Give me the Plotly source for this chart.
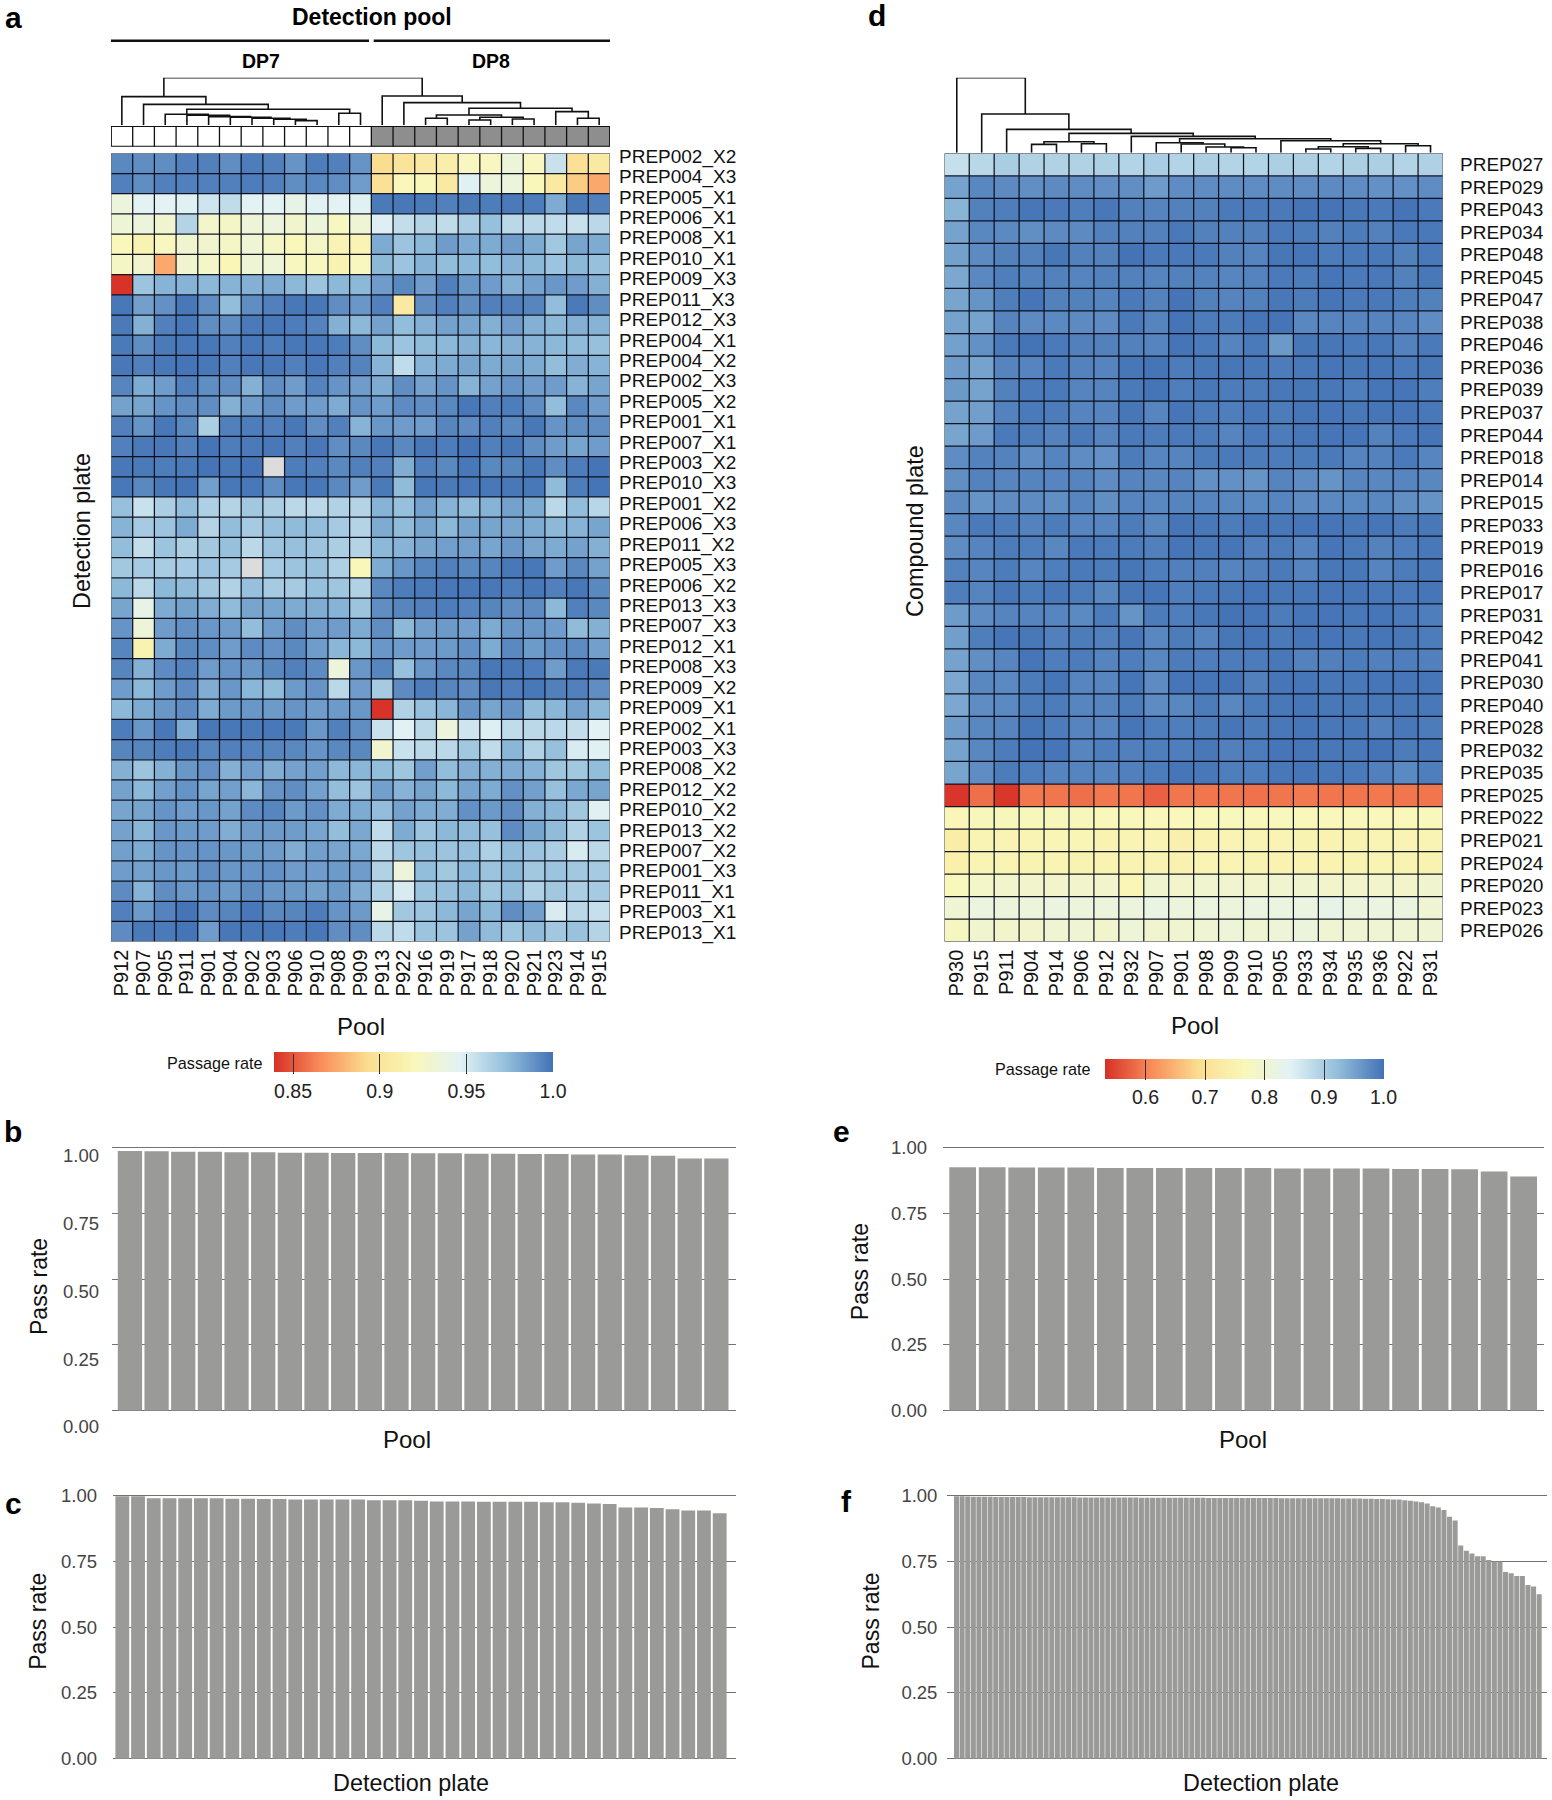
import plotly.graph_objects as go

W, H = 1552, 1800
FONT = "Liberation Sans"

# ---------- data ----------
pools_a = ["P912","P907","P905","P911","P901","P904","P902","P903","P906","P910","P908","P909",
           "P913","P922","P916","P919","P917","P918","P920","P921","P923","P914","P915"]
groups_a = [0]*12 + [1]*11
plates_a = ["PREP002_X2","PREP004_X3","PREP005_X1","PREP006_X1","PREP008_X1","PREP010_X1","PREP009_X3",
            "PREP011_X3","PREP012_X3","PREP004_X1","PREP004_X2","PREP002_X3","PREP005_X2","PREP001_X1",
            "PREP007_X1","PREP003_X2","PREP010_X3","PREP001_X2","PREP006_X3","PREP011_X2","PREP005_X3",
            "PREP006_X2","PREP013_X3","PREP007_X3","PREP012_X1","PREP008_X3","PREP009_X2","PREP009_X1",
            "PREP002_X1","PREP003_X3","PREP008_X2","PREP012_X2","PREP010_X2","PREP013_X2","PREP007_X2",
            "PREP001_X3","PREP011_X1","PREP003_X1","PREP013_X1"]
rates_a = [
 [.992,.99,.99,.995,.995,.99,.996,.995,.988,.996,.995,.988,.893,.90,.905,.91,.922,.922,.933,.922,.955,.897,.905],
 [.995,.99,.995,.995,.995,.995,.996,.995,.99,.992,.99,.985,.897,.92,.92,.905,.947,.935,.935,.92,.905,.887,.875],
 [.935,.945,.945,.947,.953,.958,.945,.945,.94,.946,.945,.947,.997,.998,.997,.995,.997,.996,.997,.996,.98,.997,.995],
 [.932,.935,.93,.962,.927,.925,.933,.935,.928,.935,.922,.932,.948,.957,.962,.958,.965,.972,.96,.96,.958,.955,.96],
 [.92,.915,.922,.93,.93,.925,.932,.925,.92,.925,.916,.916,.98,.97,.975,.985,.98,.98,.985,.98,.968,.982,.98],
 [.925,.93,.875,.93,.926,.918,.932,.933,.922,.922,.915,.922,.975,.97,.977,.973,.975,.973,.977,.975,.97,.975,.972],
 [.84,.97,.977,.977,.975,.977,.978,.98,.975,.97,.975,.975,.985,.992,.985,.995,.987,.985,.978,.983,.987,.985,.978],
 [.998,.984,.989,.998,.99,.973,.99,.995,.998,.998,.99,.987,.995,.905,.99,.995,.99,.995,.995,.993,.973,.997,.99],
 [.997,.978,.995,.998,.99,.99,.997,.998,.996,.994,.978,.975,.983,.973,.978,.983,.982,.978,.985,.978,.975,.978,.977],
 [.997,.99,.997,.998,.998,.995,.998,.996,.998,.998,.996,.99,.975,.97,.974,.975,.978,.976,.978,.977,.975,.974,.972],
 [.998,.995,.998,.999,.998,.995,.998,.998,.995,.998,.995,.994,.977,.958,.977,.98,.982,.98,.982,.98,.973,.979,.977],
 [.993,.98,.985,.995,.99,.99,.978,.99,.985,.994,.988,.985,.98,.99,.983,.988,.977,.983,.988,.985,.985,.977,.982],
 [.983,.982,.988,.99,.99,.978,.985,.99,.985,.985,.98,.988,.985,.991,.99,.992,.998,.995,.996,.99,.973,.992,.985],
 [.995,.988,.998,.992,.965,.995,.996,.995,.998,.99,.995,.977,.987,.985,.985,.993,.991,.995,.992,.998,.988,.99,.99],
 [.995,.997,.998,.995,.999,.996,.997,.998,.995,.998,.99,.992,.998,.992,.998,.996,.999,.995,.998,.99,.985,.982,.985],
 [.998,.997,.996,.997,.999,.998,.999,None,.996,.995,.992,.995,.995,.979,.995,.992,.998,.992,.993,.998,.99,.996,.999],
 [.998,.992,.998,.999,.984,.998,.998,.99,.998,.998,.992,.985,.997,.974,.998,.997,.998,.998,.998,.998,.974,.996,.999],
 [.972,.955,.965,.973,.964,.962,.968,.965,.96,.96,.963,.962,.977,.972,.983,.977,.974,.977,.983,.98,.96,.973,.961],
 [.977,.967,.97,.98,.962,.973,.967,.972,.974,.973,.967,.962,.98,.974,.982,.975,.982,.982,.982,.98,.975,.977,.982],
 [.973,.957,.97,.965,.968,.972,.96,.97,.972,.97,.965,.962,.975,.977,.982,.984,.984,.982,.987,.982,.98,.983,.978],
 [.968,.967,.966,.967,.97,.967,None,.967,.97,.971,.964,.92,.98,.987,.993,.995,.992,.993,.998,.998,.985,.992,.983],
 [.975,.96,.975,.974,.968,.963,.972,.967,.967,.972,.969,.963,.992,.996,.997,.998,.998,.998,.996,.998,.995,.998,.992],
 [.982,.94,.98,.983,.979,.974,.982,.982,.98,.979,.977,.97,.99,.993,.995,.996,.994,.993,.99,.991,.975,.995,.992],
 [.988,.933,.985,.989,.987,.985,.973,.985,.99,.985,.985,.98,.99,.975,.984,.986,.984,.98,.987,.987,.985,.974,.978],
 [.993,.915,.98,.992,.99,.985,.991,.989,.992,.985,.976,.975,.987,.985,.985,.986,.989,.98,.992,.986,.989,.991,.984],
 [.993,.978,.991,.994,.985,.988,.987,.992,.995,.991,.935,.987,.993,.972,.987,.992,.992,.998,.998,.996,.985,.997,.997],
 [.985,.975,.985,.991,.979,.987,.976,.974,.986,.988,.96,.985,.967,.991,.996,.993,.991,.998,.996,.998,.995,.995,.99],
 [.975,.98,.987,.991,.98,.986,.987,.986,.988,.985,.986,.987,.84,.963,.972,.976,.988,.982,.988,.974,.976,.983,.975],
 [.996,.987,.998,.98,.998,.998,.997,.998,.997,.987,.995,.99,.955,.946,.96,.935,.953,.948,.958,.96,.96,.957,.946],
 [.993,.993,.996,.997,.993,.995,.994,.993,.992,.988,.992,.992,.93,.955,.96,.96,.968,.958,.976,.963,.972,.95,.947],
 [.978,.97,.978,.987,.989,.978,.984,.979,.983,.984,.975,.976,.973,.969,.984,.973,.978,.978,.98,.977,.969,.968,.973],
 [.983,.975,.984,.988,.982,.984,.976,.988,.99,.983,.973,.97,.984,.977,.982,.975,.982,.98,.989,.984,.972,.981,.982],
 [.982,.982,.988,.985,.987,.983,.991,.993,.986,.989,.98,.98,.973,.983,.98,.979,.989,.986,.99,.978,.976,.968,.947],
 [.983,.976,.987,.986,.985,.979,.985,.986,.985,.982,.973,.981,.958,.98,.97,.975,.974,.972,.991,.982,.974,.963,.97],
 [.984,.98,.988,.988,.988,.987,.986,.985,.979,.984,.982,.981,.96,.969,.972,.97,.972,.964,.973,.97,.965,.95,.96],
 [.985,.983,.987,.986,.99,.987,.988,.989,.985,.985,.986,.985,.963,.935,.973,.968,.975,.97,.975,.968,.97,.968,.967],
 [.991,.977,.99,.987,.988,.986,.99,.987,.986,.983,.986,.979,.963,.95,.97,.972,.975,.968,.973,.963,.968,.965,.967],
 [.995,.986,.994,.999,.991,.993,.998,.992,.993,.996,.988,.986,.94,.968,.97,.975,.982,.975,.99,.984,.95,.96,.956],
 [.991,.997,.997,.999,.985,.998,.998,.998,.996,.998,.99,.99,.96,.958,.97,.97,.983,.974,.969,.974,.968,.971,.962],
]
# dendrogram merges: (left, right, height); integers are leaf positions
tree_a = (((0, (1, ((2, (3, (4, (5, (6, (7, (8, 9, 14), 18), 21), 24), 26), 30), 33), (10, 11, 36), 48), 63), 86),
           (12, (13, (((14, 15, 21), ((16, 17, 16), (18, 19, 19), 24), 31), (20, (21, 22, 21), 41), 51), 68), 88), 143))

pools_d = ["P930","P915","P911","P904","P914","P906","P912","P932","P907","P901",
           "P908","P909","P910","P905","P933","P934","P935","P936","P922","P931"]
plates_d = ["PREP027","PREP029","PREP043","PREP034","PREP048","PREP045","PREP047","PREP038","PREP046",
            "PREP036","PREP039","PREP037","PREP044","PREP018","PREP014","PREP015","PREP033","PREP019",
            "PREP016","PREP017","PREP031","PREP042","PREP041","PREP030","PREP040","PREP028","PREP032",
            "PREP035","PREP025","PREP022","PREP021","PREP024","PREP020","PREP023","PREP026"]
rates_d = [
 [.872,.885,.900,.892,.892,.892,.895,.890,.900,.890,.897,.890,.890,.897,.897,.890,.897,.897,.890,.893],
 [.950,.978,.975,.970,.975,.972,.970,.970,.958,.972,.972,.972,.972,.972,.972,.975,.972,.968,.968,.972],
 [.932,.985,.988,.995,.992,.988,.994,.985,.982,.985,.985,.992,.992,.992,.997,.997,.994,.992,.997,.992],
 [.950,.978,.976,.970,.975,.975,.985,.985,.985,.993,.985,.985,.985,.992,.990,.985,.990,.985,.993,.993],
 [.952,.975,.985,.985,.995,.985,.985,.998,.992,.993,.992,.985,.982,.995,.996,.990,.992,.993,.985,.993],
 [.945,.977,.987,.985,.985,.982,.985,.985,.982,.985,.984,.980,.983,.992,.990,.996,.992,.993,.985,.994],
 [.948,.965,.987,.996,.985,.985,.982,.992,.984,.997,.985,.982,.985,.994,.990,.996,.992,.993,.988,.985],
 [.950,.950,.982,.975,.976,.975,.974,.992,.982,.997,.990,.990,.996,.997,.978,.980,.982,.982,.980,.972],
 [.953,.968,.992,.998,.992,.986,.985,.985,.982,.997,.992,.982,.992,.960,.995,.995,.992,.994,.984,.992],
 [.958,.950,.982,.982,.992,.984,.982,.995,.997,.990,.994,.995,.994,.990,.994,.996,.995,.996,.992,.995],
 [.960,.950,.985,.992,.992,.982,.982,.992,.997,.988,.994,.990,.990,.994,.995,.994,.988,.996,.996,.988],
 [.950,.955,.984,.992,.990,.982,.982,.995,.980,.996,.990,.988,.994,.990,.996,.996,.994,.996,.996,.994],
 [.948,.958,.992,.990,.984,.992,.982,.992,.990,.992,.990,.982,.992,.990,.995,.996,.996,.984,.992,.996],
 [.972,.984,.984,.972,.982,.972,.968,.990,.980,.982,.990,.992,.990,.990,.990,.992,.982,.984,.992,.980],
 [.970,.984,.980,.982,.980,.982,.972,.982,.978,.982,.968,.968,.965,.982,.974,.965,.980,.978,.980,.978],
 [.975,.965,.972,.974,.970,.980,.970,.980,.978,.982,.980,.978,.976,.980,.974,.976,.976,.978,.970,.966],
 [.978,.992,.990,.984,.990,.980,.980,.990,.978,.996,.994,.990,.996,.994,.996,.996,.994,.996,.990,.994],
 [.972,.982,.990,.988,.978,.992,.990,.990,.986,.996,.994,.996,.986,.990,.982,.996,.992,.984,.988,.994],
 [.984,.980,.990,.980,.988,.992,.990,.995,.988,.986,.986,.982,.986,.992,.982,.994,.994,.982,.990,.994],
 [.988,.982,.995,.990,.994,.990,.978,.995,.996,.988,.992,.994,.996,.994,.994,.996,.996,.994,.992,.996],
 [.958,.972,.982,.982,.980,.976,.990,.965,.990,.988,.994,.998,.996,.990,.996,.996,.994,.996,.992,.988],
 [.955,.988,.996,.994,.986,.990,.986,.995,.978,.990,.982,.995,.996,.992,.996,.996,.994,.996,.994,.990],
 [.950,.970,.980,.996,.988,.990,.982,.988,.978,.990,.988,.990,.990,.994,.984,.986,.990,.986,.988,.986],
 [.945,.978,.976,.990,.996,.980,.980,.996,.974,.996,.996,.998,.986,.996,.996,.994,.994,.996,.996,.996],
 [.945,.972,.976,.990,.990,.980,.982,.990,.974,.978,.990,.978,.990,.994,.996,.994,.994,.994,.994,.994],
 [.958,.978,.982,.996,.990,.982,.980,.996,.988,.988,.990,.996,.990,.994,.996,.994,.994,.986,.994,.990],
 [.950,.978,.990,.998,.996,.980,.988,.986,.988,.988,.994,.986,.990,.996,.996,.994,.994,.998,.990,.994],
 [.948,.972,.990,.988,.982,.982,.980,.986,.990,.996,.994,.988,.988,.994,.996,.994,.992,.986,.976,.988],
 [.535,.585,.537,.592,.590,.585,.592,.590,.572,.590,.590,.590,.587,.590,.594,.590,.590,.592,.590,.590],
 [.762,.768,.768,.768,.768,.768,.765,.765,.765,.765,.767,.770,.767,.770,.765,.765,.765,.765,.765,.770],
 [.735,.755,.755,.755,.758,.758,.752,.755,.755,.745,.750,.755,.755,.755,.752,.750,.752,.755,.755,.755],
 [.740,.755,.755,.752,.755,.752,.752,.752,.752,.748,.755,.755,.752,.750,.750,.750,.752,.755,.752,.752],
 [.770,.785,.790,.790,.790,.790,.790,.762,.795,.790,.795,.795,.790,.795,.795,.790,.790,.790,.790,.795],
 [.800,.815,.810,.810,.817,.810,.810,.810,.820,.810,.815,.810,.817,.815,.817,.825,.815,.817,.815,.800],
 [.775,.795,.790,.790,.800,.800,.790,.805,.795,.795,.800,.805,.800,.805,.810,.800,.800,.800,.800,.800],
]
tree_d = (0, (1, (2, (((3, 4, 25), (5, 6, 27), 33),
                      (7, ((8, (9, (10, (11, 12, 15), 17), 26), 30),
                           (13, (((14, 15, 11), (16, 17, 13), 18), (18, 19, 21), 27), 36), 42), 49), 58), 70), 116), 225)

pass_b = [.988,.987,.985,.985,.983,.983,.982,.982,.981,.981,.981,.98,.98,.978,.978,.977,.977,.975,.975,.972,.97,.96,.96]
pass_c = [.998,.998,.99,.99,.99,.99,.99,.988,.988,.987,.987,.985,.985,.985,.985,.985,.982,.982,.982,.98,
          .978,.978,.978,.977,.977,.977,.977,.975,.975,.973,.97,.968,.955,.955,.953,.948,.943,.943,.933]
pass_e = [.926,.926,.925,.925,.925,.923,.923,.923,.923,.923,.923,.922,.922,.922,.922,.92,.92,.919,.91,.891]
pass_f = [.998,.998,.997,.996,.996,.996,.996,.995,.995,.995,
          .995,.995,.995,.994,.994,.994,.994,.994,.994,.994,
          .994,.994,.993,.993,.993,.993,.993,.993,.993,.993,
          .993,.993,.993,.992,.992,.992,.992,.992,.992,.992,
          .992,.992,.992,.992,.992,.991,.991,.991,.991,.991,
          .991,.991,.991,.991,.991,.991,.991,.991,.990,.990,
          .990,.990,.990,.990,.990,.990,.990,.990,.990,.989,
          .989,.989,.989,.988,.988,.987,.987,.986,.985,.985,
          .982,.980,.978,.975,.970,.960,.955,.945,.920,.905,
          .810,.790,.780,.770,.770,.755,.750,.750,.710,.705,
          .695,.695,.660,.655,.625]
pass_ticks = [0, .25, .5, .75, 1]
pass_labels = ["0.00", "0.25", "0.50", "0.75", "1.00"]
cb_ticks_a = [.85, .9, .95, 1.0]
cb_labels_a = ["0.85", "0.9", "0.95", "1.0"]
cb_ticks_d = [.6, .7, .8, .9, 1.0]
cb_labels_d = ["0.6", "0.7", "0.8", "0.9", "1.0"]

# ---------- helpers ----------
RDYLBU = [[0, "#d73027"], [1/6, "#f98c5a"], [1/3, "#fbdd8e"], [.5, "#f9f7b9"],
          [2/3, "#e2f2f5"], [5/6, "#93bedb"], [1, "#4272b5"]]
GRID = "rgba(8,12,24,0.95)"
BAR = "#9a9a99"
RULE = "#727272"
LABEL = 19
PAD = .01   # value-axis headroom so the rules at 0 and 1 are kept

def dx(a, b): return [a / W, b / W]
def dy(top, bottom): return [1 - bottom / H, 1 - top / H]

layout = dict(width=W, height=H, autosize=False, showlegend=False,
              margin=dict(l=0, r=0, t=0, b=0, autoexpand=False), paper_bgcolor="white",
              plot_bgcolor="rgba(0,0,0,0)",
              font=dict(family=FONT, color="#111"), annotations=[], shapes=[])
traces = []
counter = [0]

def new_axes(xdom, ydom, xkw, ykw):
    counter[0] += 1
    n = counter[0]
    sx = "" if n == 1 else str(n)
    base = dict(showgrid=False, zeroline=False, showline=False, ticks="", fixedrange=True)
    layout["xaxis" + sx] = {**base, "domain": xdom, "anchor": "y" + sx, **xkw}
    layout["yaxis" + sx] = {**base, "domain": ydom, "anchor": "x" + sx, **ykw}
    return "x" + sx, "y" + sx

def grid(nc, nr, xa, ya, color=GRID, width=1.25, outer=None, outer_w=1):
    xs, ys = [], []
    for i in range(1, nc):
        xs += [i - .5, i - .5, None]; ys += [-.5, nr - .5, None]
    for j in range(1, nr):
        xs += [-.5, nc - .5, None]; ys += [j - .5, j - .5, None]
    traces.append(go.Scatter(x=xs, y=ys, mode="lines", line=dict(color=color, width=width),
                             xaxis=xa, yaxis=ya, hoverinfo="skip"))
    xs = [-.5, nc - .5, nc - .5, -.5, -.5]; ys = [-.5, -.5, nr - .5, nr - .5, -.5]
    traces.append(go.Scatter(x=xs, y=ys, mode="lines", line=dict(color=outer or color, width=outer_w),
                             xaxis=xa, yaxis=ya, hoverinfo="skip", cliponaxis=False))

def dendro(node, xs, ys):
    if isinstance(node, int):
        return node, 0
    lx, lh = dendro(node[0], xs, ys)
    rx, rh = dendro(node[1], xs, ys)
    h = node[2]
    xs += [lx, lx, rx, rx, None]; ys += [lh, h, h, rh, None]
    return (lx + rx) / 2, h

def note(text, px, py, size, bold=False, angle=0, anchor="center", color="#111"):
    layout["annotations"].append(dict(
        text=f"<b>{text}</b>" if bold else text, x=px / W, y=1 - py / H, xref="paper", yref="paper",
        showarrow=False, xanchor=anchor, yanchor="middle", textangle=angle,
        font=dict(family=FONT, size=size, color=color)))

def heat_panel(rates, rows, cols, x0, x1, y0, y1, zmin, cb_ticks, cb_labels, cbx0, cbx1, cby0, cby1,
               xoff, yoff, cb_drop, label_span=None):
    nr, nc = len(rows), len(cols)
    y_labels = dict(side="right", tickmode="array", tickvals=list(range(nr)), ticktext=rows,
                    tickfont=dict(size=LABEL, color="#111"), ticklabelstandoff=yoff)
    y_kw = dict(range=[nr - .5, -.5])
    y_kw.update(dict(showticklabels=False) if label_span else y_labels)
    xa, ya = new_axes(dx(x0, x1), dy(y0, y1),
                      dict(range=[-.5, nc - .5], tickmode="array", tickvals=list(range(nc)), ticktext=cols,
                           tickangle=-90, tickfont=dict(size=20, color="#111"), ticklabelstandoff=xoff),
                      y_kw)
    if label_span:
        # the reference's row labels are spaced slightly wider than the rows themselves
        half = (label_span[1] - label_span[0]) / (nr - 1) / 2
        xl, yl = new_axes(dx(x0, x1), dy(label_span[0] - half, label_span[1] + half),
                          dict(range=[-.5, nc - .5], showticklabels=False),
                          dict(range=[nr - .5, -.5], **y_labels))
        traces.append(go.Scatter(x=[None], y=[None], mode="markers", xaxis=xl, yaxis=yl, hoverinfo="skip"))
    missing = [[1 if v is None else None for v in r] for r in rates]
    if any(1 in r for r in missing):
        traces.append(go.Heatmap(z=missing, x=list(range(nc)), y=list(range(nr)), zmin=0, zmax=1,
                                 colorscale=[[0, "#dcdcdc"], [1, "#dcdcdc"]], showscale=False,
                                 xaxis=xa, yaxis=ya, hoverinfo="skip"))
    traces.append(go.Heatmap(
        z=rates, x=list(range(nc)), y=list(range(nr)), zmin=zmin, zmax=1, colorscale=RDYLBU, xaxis=xa, yaxis=ya,
        colorbar=dict(orientation="h", lenmode="pixels", len=cbx1 - cbx0, thickness=cby1 - cby0,
                      thicknessmode="pixels", x=cbx0 / W, xanchor="left", y=1 - cby0 / H, yanchor="top",
                      xpad=0, ypad=0, outlinewidth=cb_drop, outlinecolor="rgba(0,0,0,0)", ticks="inside",
                      ticklen=cby1 - cby0, tickcolor="#333",
                      tickwidth=1, tickmode="array", tickvals=cb_ticks, ticktext=cb_labels,
                      tickfont=dict(family=FONT, size=19.5, color="#222"))))
    grid(nc, nr, xa, ya, outer="#6e6e6e", outer_w=1.2)

def dendro_panel(tree, nc, hmax, x0, x1, y0, y1):
    xa, ya = new_axes(dx(x0, x1), dy(y0, y1),
                      dict(range=[-.5, nc - .5], showticklabels=False),
                      dict(range=[0, hmax], showticklabels=False))
    xs, ys = [], []
    dendro(tree, xs, ys)
    traces.append(go.Scatter(x=xs, y=ys, mode="lines", line=dict(color="#111", width=1.6),
                             xaxis=xa, yaxis=ya, hoverinfo="skip", cliponaxis=False))

def bar_panel(vals, ax0, ax1, bx0, bx1, y0, y1, width, standoff, show_labels=True):
    n = len(vals)
    gap = (1 - width)
    pitch = (bx1 - bx0) / (n - gap)
    rng = [-.5 + gap / 2 - (bx0 - ax0) / pitch, n - .5 - gap / 2 + (ax1 - bx1) / pitch]
    extra = PAD * (y1 - y0)
    xa, ya = new_axes(dx(ax0, ax1), dy(y0 - extra, y1 + extra),
                      dict(range=rng, showticklabels=False),
                      dict(range=[-PAD, 1 + PAD], showgrid=True, gridcolor=RULE, gridwidth=1, tickmode="array",
                           tickvals=pass_ticks, ticktext=pass_labels, showticklabels=show_labels,
                           tickfont=dict(size=18.5, color="#444"), ticklabelstandoff=standoff))
    traces.append(go.Bar(x=list(range(n)), y=vals, width=width, marker=dict(color=BAR, line=dict(width=0)),
                         xaxis=xa, yaxis=ya))

# ---------- panel a ----------
heat_panel(rates_a, plates_a, pools_a, 111, 610, 153.3, 941.7, .839, cb_ticks_a, cb_labels_a,
           274, 553, 1052.4, 1072, 3, 8, 4, label_span=(156.1, 932.1))
xa, ya = new_axes(dx(111, 610), dy(126, 146.7),
                  dict(range=[-.5, len(pools_a) - .5], showticklabels=False),
                  dict(range=[-.5, .5], showticklabels=False))
traces.append(go.Heatmap(z=[groups_a], x=list(range(len(pools_a))), y=[0], zmin=0, zmax=1,
                         colorscale=[[0, "#ffffff"], [1, "#8e8e8e"]], showscale=False, xaxis=xa, yaxis=ya))
grid(len(pools_a), 1, xa, ya, color="#111", width=1.3, outer_w=1.8)
dendro_panel(tree_a, len(pools_a), 143, 111, 610, 77.7, 125.3)

# ---------- panel d ----------
heat_panel(rates_d, plates_d, pools_d, 944.3, 1443, 153.3, 941.7, .531, cb_ticks_d, cb_labels_d,
           1104.5, 1383, 1059.3, 1079.3, 3, 16, 2)
dendro_panel(tree_d, len(pools_d), 225, 944.3, 1443, 77.7, 152.7)

# ---------- bar panels ----------
bar_panel(pass_b, 112, 735.8, 117.8, 728.5, 1147.9, 1410.6, .91, 0, show_labels=False)
bar_panel(pass_c, 113, 735.8, 115.4, 726.6, 1495.6, 1758.8, .88, 15)
bar_panel(pass_e, 943, 1543.6, 949.3, 1537, 1147.9, 1410.6, .905, 15)
bar_panel(pass_f, 947.4, 1547, 954, 1541.7, 1495.6, 1758.8, .9, 9)

# panel b prints its labels on a scale offset from its rules
xl, yl = new_axes(dx(112, 735.8), dy(1155.3, 1427),
                  dict(range=[0, 1], showticklabels=False),
                  dict(range=[0, 1], tickmode="array", tickvals=pass_ticks, ticktext=pass_labels,
                       tickfont=dict(size=18.5, color="#444"), ticklabelstandoff=12))
traces.append(go.Scatter(x=[None], y=[None], mode="markers", xaxis=xl, yaxis=yl, hoverinfo="skip"))

# ---------- text ----------
for t, x, y in [("a", 13, 17), ("b", 13, 1131), ("c", 13, 1503), ("d", 877, 16), ("e", 842, 1131), ("f", 847, 1501)]:
    note(t, x, y, 30, bold=True, color="#000")
note("Detection pool", 372, 17.3, 23, bold=True, color="#000")
note("DP7", 261, 61, 19.5, bold=True, color="#000")
note("DP8", 490.5, 61, 19.5, bold=True, color="#000")
note("Detection plate", 82, 531, 23.4, angle=-90)
note("Compound plate", 915, 531, 23.4, angle=-90)
note("Pool", 360.6, 1026, 24)
note("Pool", 1194.5, 1025, 24)
note("Passage rate", 264, 1063, 16.2, anchor="right")
note("Passage rate", 1092, 1069.3, 16.2, anchor="right")
note("Pass rate", 39, 1287, 23, angle=-90)
note("Pass rate", 37.3, 1621.5, 23, angle=-90)
note("Pass rate", 859.7, 1271.5, 23, angle=-90)
note("Pass rate", 870, 1621.5, 23, angle=-90)
note("Pool", 406.7, 1439, 24)
note("Pool", 1242.5, 1439, 24)
note("Detection plate", 411, 1783, 23.4)
note("Detection plate", 1261, 1783, 23.4)

for x0, x1 in [(111, 369), (373.7, 610)]:
    layout["shapes"].append(dict(type="line", xref="paper", yref="paper", x0=x0 / W, x1=x1 / W,
                                 y0=1 - 40.7 / H, y1=1 - 40.7 / H, line=dict(color="#111", width=2.6)))

fig = go.Figure(data=traces, layout=layout)
fig.write_html("out.html", config={"displayModeBar": False},
               post_script="document.body.style.margin='0';")
